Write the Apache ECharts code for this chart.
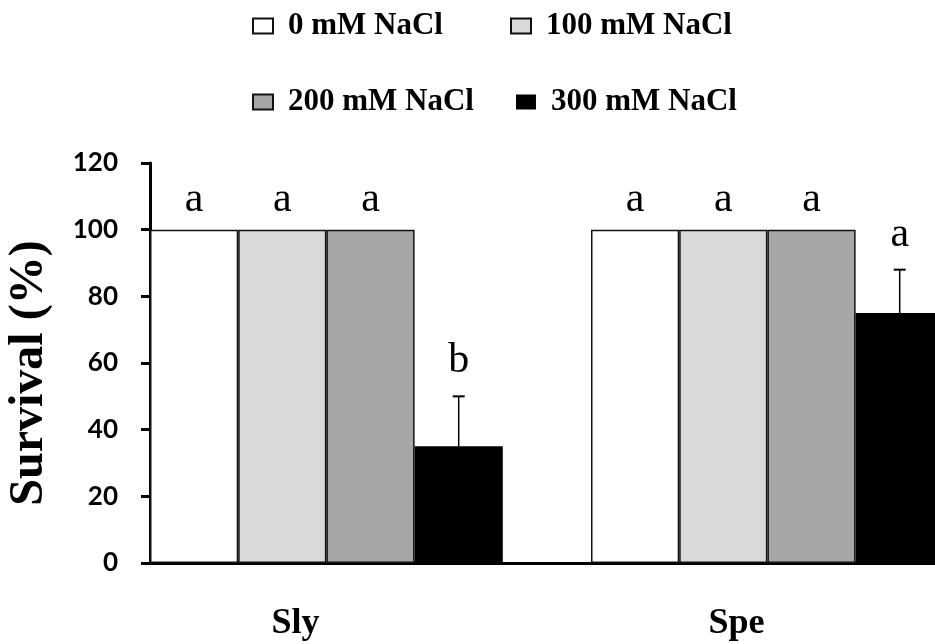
<!DOCTYPE html>
<html>
<head>
<meta charset="utf-8">
<script src="https://cdn.jsdelivr.net/npm/echarts@6/dist/echarts.min.js"></script>
<style>
  html, body { margin: 0; padding: 0; background: #fff; }
  #chart { width: 935px; height: 644px; }
</style>
</head>
<body>
<div id="chart"></div>
<script>
// data
const groups = ['Sly', 'Spe'];
const treatments = ['0 mM NaCl', '100 mM NaCl', '200 mM NaCl', '300 mM NaCl'];
const colors = ['#ffffff', '#d9d9d9', '#a6a6a6', '#000000'];
const survival = [
    [100, 100],   // 0 mM
    [100, 100],   // 100 mM
    [100, 100],   // 200 mM
    [35, 75]      // 300 mM
];
const errors300 = [15, 13];
const letters = [
    ['a', 'a'],
    ['a', 'a'],
    ['a', 'a'],
    ['b', 'a']
];
const yTicks = [0, 20, 40, 60, 80, 100, 120];

const serif = '"Liberation Serif", "Times New Roman", serif';

document.addEventListener('DOMContentLoaded', () => {
    const chart = echarts.init(document.getElementById('chart'));

    const barSeries = treatments.map((name, s) => ({
        name: name,
        type: 'bar',
        barGap: 0,
        barCategoryGap: 0,
        data: survival[s],
        itemStyle: { color: colors[s], borderColor: '#111', borderWidth: s === 3 ? 0 : 1.5 },
        label: {
            show: s !== 3,
            position: 'top',
            distance: 9,
            formatter: p => letters[s][p.dataIndex],
            fontFamily: serif,
            fontSize: 42,
            color: '#000'
        }
    }));

    // empty slot so each group sits flush left with a one-bar gap after it
    barSeries.push({ name: 'spacer', type: 'bar', data: [0, 0], itemStyle: { color: 'transparent' }, silent: true });

    // error bars (and letters) for 300 mM
    const errData = groups.map((g, i) => [i, survival[3][i], errors300[i]]);
    barSeries.push({
        name: 'err',
        type: 'custom',
        z: 5,
        data: errData,
        encode: { x: 0, y: 1 },
        renderItem: (params, api) => {
            const i = api.value(0);
            const mean = api.value(1);
            const err = api.value(2);
            const bw = api.size([1, 0])[0];
            const dx = bw * 0.2;
            const base = api.coord([i, mean]);
            const top = api.coord([i, mean + err]);
            const x = base[0] + dx;
            return {
                type: 'group',
                children: [
                    { type: 'line', shape: { x1: x, y1: base[1], x2: x, y2: top[1] }, style: { stroke: '#000', lineWidth: 1.5 } },
                    { type: 'line', shape: { x1: x - 6, y1: top[1], x2: x + 6, y2: top[1] }, style: { stroke: '#000', lineWidth: 2 } },
                    { type: 'text', x: x, y: top[1] - 14, style: { text: letters[3][i], fontFamily: serif, fontSize: 42, fill: '#000', align: 'center', verticalAlign: 'bottom' } }
                ]
            };
        }
    });

    const option = {
        animation: false,
        backgroundColor: '#fff',
        legend: {
            data: treatments,
            left: 247,
            top: 4,
            width: 540,
            icon: 'rect',
            itemWidth: 20,
            itemHeight: 15,
            itemGap: 42,
            textStyle: {
                fontFamily: serif,
                fontWeight: 'bold',
                fontSize: 31,
                color: '#000',
                width: 180,
                lineHeight: 34,
                padding: [0, 0, 0, 10]
            }
        },
        grid: { left: 150, top: 163, bottom: 81, width: 882, containLabel: false, outerBoundsMode: 'none' },
        xAxis: {
            type: 'category',
            data: groups,
            axisLine: { lineStyle: { color: '#000', width: 3 } },
            axisTick: { show: false },
            axisLabel: {
                margin: 43,
                padding: [0, 150, 0, 0],
                fontFamily: serif,
                fontWeight: 'bold',
                fontSize: 36,
                color: '#000'
            }
        },
        yAxis: {
            type: 'value',
            min: yTicks[0],
            max: yTicks[yTicks.length - 1],
            interval: 20,
            name: 'Survival (%)',
            nameLocation: 'middle',
            nameGap: 96,
            nameTextStyle: { fontFamily: serif, fontWeight: 'bold', fontSize: 48, color: '#000', padding: [0, 20, 0, 0] },
            axisLine: { show: true, lineStyle: { color: '#000', width: 3 } },
            axisTick: { show: true, length: 9, lineStyle: { color: '#000', width: 3 } },
            splitLine: { show: false },
            axisLabel: { margin: 32, fontFamily: 'Lato, sans-serif', fontWeight: 'bold', fontSize: 26, color: '#000' }
        },
        series: barSeries
    };
    chart.setOption(option);
});
</script>
</body>
</html>
